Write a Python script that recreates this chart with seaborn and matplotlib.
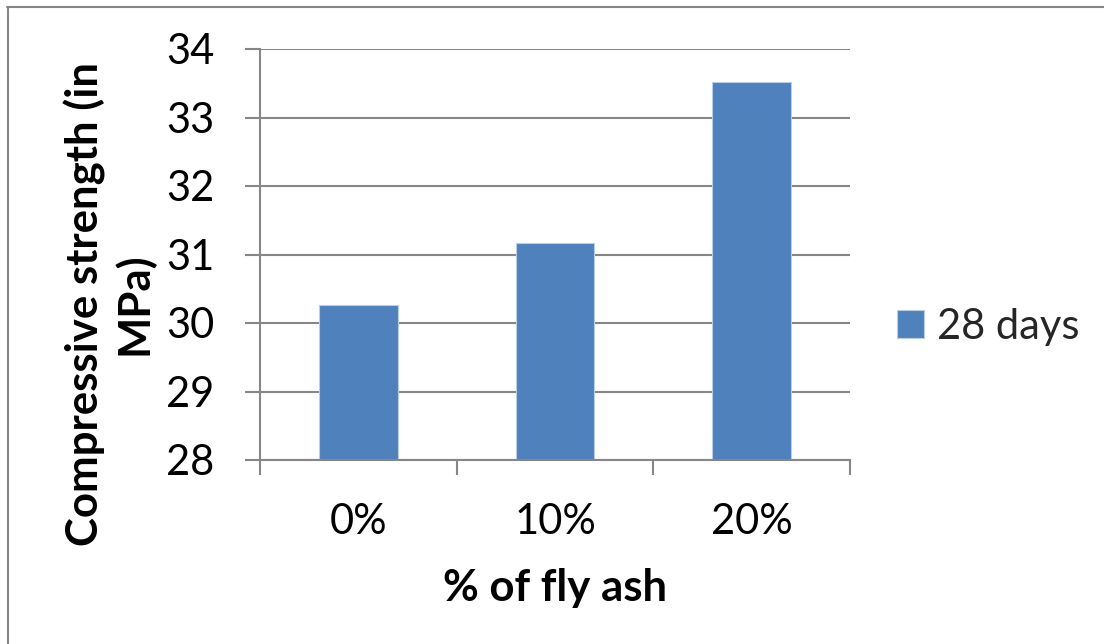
import matplotlib
matplotlib.use("Agg")
import matplotlib.pyplot as plt
from matplotlib.lines import Line2D
from matplotlib.ticker import FixedLocator
import pandas as pd
import seaborn as sns

# Data
fly_ash = ["0%", "10%", "20%"]
strength_28d = [30.26, 31.17, 33.52]
series_name = "28 days"
y_ticks = [28, 29, 30, 31, 32, 33, 34]

df = pd.DataFrame({
    "fly_ash": fly_ash,
    "strength": strength_28d,
    "age": [series_name] * len(fly_ash),
})

sns.set_theme(style="white")
plt.rcParams["font.family"] = ["Lato", "DejaVu Sans"]

GRID = "#868686"
BAR = "#4F81BD"
TICK_FS = 30
LABEL_FS = 31.5

W, H = 1104, 644
fig = plt.figure(figsize=(W / 100, H / 100), dpi=100)
fig.patch.set_facecolor("white")
ax = fig.add_axes([260 / W, 1 - 460 / H, 590 / W, 411 / H])

sns.barplot(data=df, x="fly_ash", y="strength", hue="age",
            palette=[BAR], width=0.4, saturation=1, ax=ax,
            edgecolor="#B9CDE5", linewidth=0.8)

ax.set_ylim(28, 34)
ax.set_xlim(-0.5, 2.5)
ax.set_yticks(y_ticks)
ax.yaxis.grid(True, color=GRID, linewidth=1.5)
ax.set_axisbelow(True)

for s in ["top", "right"]:
    ax.spines[s].set_visible(False)
for s in ["left", "bottom"]:
    ax.spines[s].set_color(GRID)
    ax.spines[s].set_linewidth(1.5)

# category boundary ticks on the x axis, labels centred under bars
ax.xaxis.set_minor_locator(FixedLocator([-0.5, 0.5, 1.5, 2.5]))
ax.tick_params(axis="x", which="major", length=0, pad=31, labelsize=TICK_FS)
ax.tick_params(axis="x", which="minor", length=11, width=1.5, color=GRID,
               bottom=True)
ax.tick_params(axis="y", which="major", length=11, width=1.5, color=GRID,
               left=True, pad=22, labelsize=TICK_FS)
for lab in ax.get_xticklabels() + ax.get_yticklabels():
    lab.set_color("black")

ax.set_xlabel("% of fly ash", fontsize=LABEL_FS, fontweight="bold",
              color="black")
ax.set_ylabel("Compressive strength (in\nMPa)", fontsize=LABEL_FS,
              fontweight="bold", color="black", linespacing=1.2)
ax.xaxis.set_label_coords(0.5, -0.263)
ax.yaxis.set_label_coords(-0.178, 0.38)

sns.move_legend(ax, "center left", bbox_to_anchor=(897 / W, 1 - 327 / H),
                bbox_transform=fig.transFigure,
                title=None, frameon=False, fontsize=TICK_FS,
                borderpad=0, borderaxespad=0,
                handlelength=0.65, handleheight=0.65, handletextpad=0.3)

# chart-area border
fig.add_artist(Line2D([7 / W, 1.01], [1 - 6.5 / H, 1 - 6.5 / H],
                      transform=fig.transFigure, color=GRID, linewidth=1.5))
fig.add_artist(Line2D([7.5 / W, 7.5 / W], [-0.01, 1 - 6.5 / H],
                      transform=fig.transFigure, color=GRID, linewidth=1.5))

fig.savefig("out.png", dpi=100, facecolor="white")
